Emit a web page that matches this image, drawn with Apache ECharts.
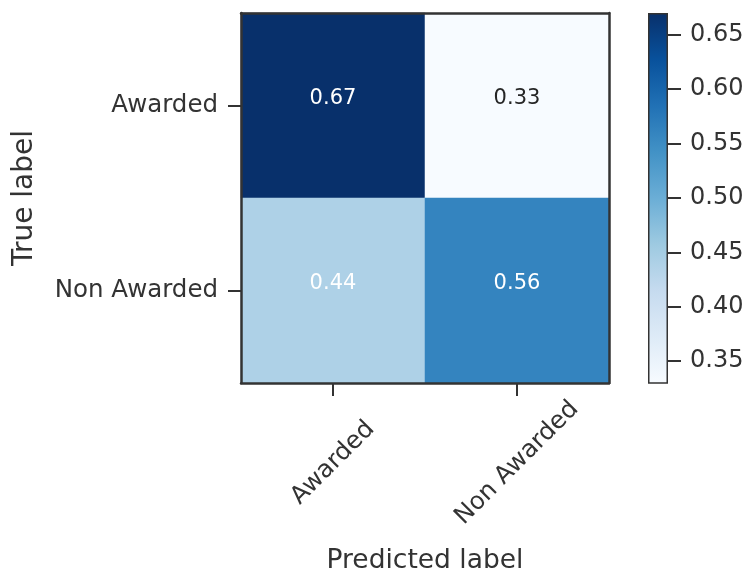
<!DOCTYPE html>
<html>
<head>
<meta charset="utf-8">
<title>Confusion matrix</title>
<script src="https://cdn.jsdelivr.net/npm/echarts@6/dist/echarts.min.js"></script>
<style>
  html, body { margin: 0; padding: 0; background: #ffffff; }
  #chart { width: 746px; height: 576px; }
</style>
</head>
<body>
<div id="chart"></div>
<script>
// Class names (rows = true label, columns = predicted label)
const classes = ['Awarded', 'Non Awarded'];
// Normalised confusion matrix, one row per true class
const rowAwarded = [0.67, 0.33];
const rowNonAwarded = [0.44, 0.56];
// Colour bar range and tick values
const colorMin = 0.33;
const colorMax = 0.67;
const colorbarTicks = [0.35, 0.40, 0.45, 0.50, 0.55, 0.60, 0.65];

// matplotlib "Blues" colormap stops
const blues = ['#f7fbff', '#deebf7', '#c6dbef', '#9ecae1', '#6baed6',
               '#4292c6', '#2171b5', '#08519c', '#08306b'];

const FONT = 'DejaVu Sans';
const TEXT = '#333333';
const EDGE = '#333333';

const rows = [rowAwarded, rowNonAwarded];
const maxVal = Math.max.apply(null, rows.flat());
const thresh = maxVal / 2;

const cells = [];
rows.forEach(function (row, yi) {
  row.forEach(function (v, xi) {
    cells.push({
      value: [xi, yi, v],
      label: { color: v > thresh ? '#ffffff' : '#262626' }
    });
  });
});

const chart = echarts.init(document.getElementById('chart'), null, { renderer: 'canvas' });

const gradient = new echarts.graphic.LinearGradient(0, 1, 0, 0,
  blues.map(function (c, i) { return { offset: i / (blues.length - 1), color: c }; }));

const option = {
  backgroundColor: '#ffffff',
  animation: false,
  textStyle: { fontFamily: FONT },
  grid: [
    { left: 241, top: 13, width: 368, height: 370, outerBoundsMode: 'none', containLabel: false },
    { left: 648, top: 13, width: 20, height: 370, outerBoundsMode: 'none', containLabel: false }
  ],
  visualMap: {
    show: false,
    type: 'continuous',
    seriesIndex: 0,
    min: colorMin,
    max: colorMax,
    inRange: { color: blues }
  },
  xAxis: [
    {
      type: 'category',
      gridIndex: 0,
      data: classes,
      position: 'bottom',
      z: 5,
      axisLine: { show: true, lineStyle: { color: EDGE, width: 2.5 } },
      axisTick: { show: true, alignWithLabel: true, length: 13, lineStyle: { color: EDGE, width: 2 } },
      axisLabel: {
        rotate: 45, align: 'center', verticalAlign: 'middle', margin: 80,
        fontSize: 24.5, color: TEXT, fontFamily: FONT
      },
      splitLine: { show: false },
      name: 'Predicted label',
      nameLocation: 'middle',
      nameGap: 165,
      nameTextStyle: { fontSize: 26.5, color: TEXT, fontFamily: FONT }
    },
    {
      type: 'category',
      gridIndex: 0,
      data: classes,
      position: 'top',
      z: 5,
      axisLine: { show: true, lineStyle: { color: EDGE, width: 2.5 } },
      axisTick: { show: false },
      axisLabel: { show: false },
      splitLine: { show: false }
    },
    {
      type: 'category',
      gridIndex: 1,
      data: ['bar'],
      show: false
    }
  ],
  yAxis: [
    {
      type: 'category',
      gridIndex: 0,
      data: classes,
      inverse: true,
      position: 'left',
      z: 5,
      axisLine: { show: true, lineStyle: { color: EDGE, width: 2.5 } },
      axisTick: { show: true, alignWithLabel: true, length: 13, lineStyle: { color: EDGE, width: 2 } },
      axisLabel: { margin: 23, fontSize: 24.5, color: TEXT, fontFamily: FONT },
      splitLine: { show: false },
      name: 'True label',
      nameLocation: 'middle',
      nameGap: 202,
      nameTextStyle: { fontSize: 28, color: TEXT, fontFamily: FONT }
    },
    {
      type: 'category',
      gridIndex: 0,
      data: classes,
      inverse: true,
      position: 'right',
      z: 5,
      axisLine: { show: true, lineStyle: { color: EDGE, width: 2.5 } },
      axisTick: { show: false },
      axisLabel: { show: false },
      splitLine: { show: false }
    },
    {
      type: 'value',
      gridIndex: 1,
      position: 'right',
      min: colorMin,
      max: colorMax,
      axisLine: { show: false },
      splitLine: { show: false },
      axisTick: {
        show: true, length: 13, customValues: colorbarTicks,
        lineStyle: { color: EDGE, width: 2 }
      },
      axisLabel: {
        customValues: colorbarTicks,
        formatter: function (v) { return v.toFixed(2); },
        margin: 22, fontSize: 24, color: TEXT, fontFamily: FONT
      }
    }
  ],
  series: [
    {
      type: 'heatmap',
      xAxisIndex: 0,
      yAxisIndex: 0,
      data: cells,
      label: {
        show: true,
        fontSize: 21,
        fontFamily: FONT,
        offset: [0, -7],
        formatter: function (p) { return p.value[2].toFixed(2); }
      },
      emphasis: { disabled: true }
    },
    {
      type: 'bar',
      xAxisIndex: 2,
      yAxisIndex: 2,
      data: [colorMax],
      barWidth: '100%',
      silent: true,
      itemStyle: { color: gradient, borderColor: EDGE, borderWidth: 1.5 }
    }
  ]
};

chart.setOption(option);
</script>
</body>
</html>
